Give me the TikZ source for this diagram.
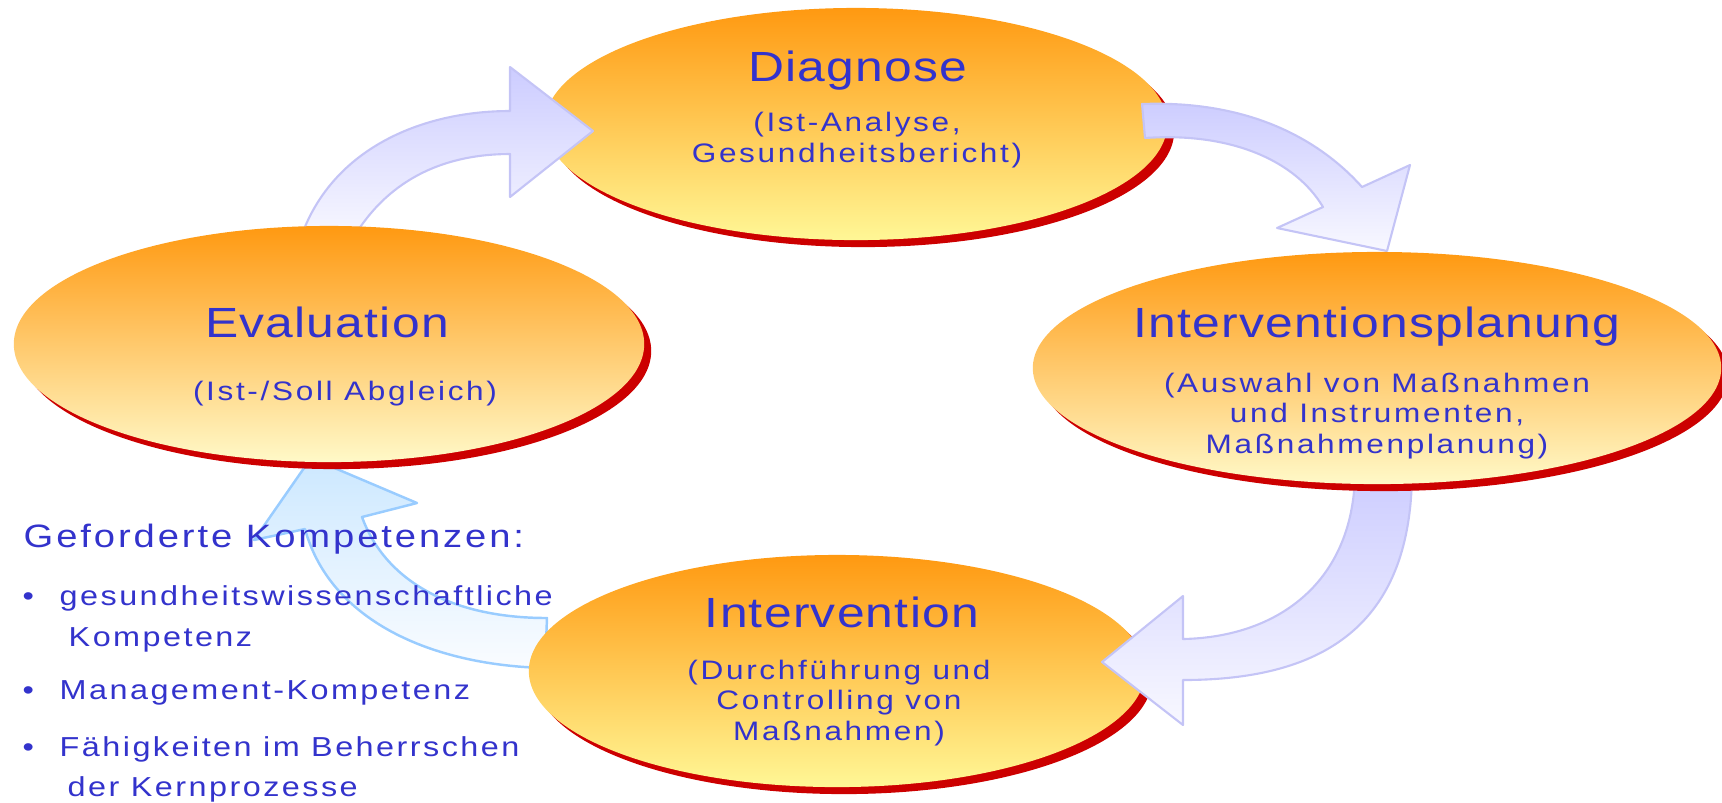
\documentclass[tikz,border=0pt]{standalone}
\usepackage{fontspec}
\setmainfont{Liberation Sans}
\newfontfamily\bigfont{Liberation Sans}[FakeStretch=1.18, LetterSpace=3]
\newfontfamily\smallfont{Liberation Sans}[FakeStretch=1.18, LetterSpace=10]
\newfontfamily\listfont{Liberation Sans}[FakeStretch=1.18, LetterSpace=9]
\usepackage{tikz}
\usetikzlibrary{shapes.geometric}
\usetikzlibrary{shadows}
\usetikzlibrary{positioning}

\definecolor{textblue}{RGB}{51,51,204}
\definecolor{ovaltop}{RGB}{255,153,17}
\definecolor{ovalbottom}{RGB}{255,247,150}
\definecolor{ovalpale}{RGB}{255,249,200}
\definecolor{ovalred}{RGB}{204,0,0}
\definecolor{lilac}{RGB}{204,204,255}
\definecolor{lilacline}{RGB}{196,196,246}
\definecolor{lilacpale}{RGB}{248,248,255}
\definecolor{skyfill}{RGB}{204,232,255}
\definecolor{skyline}{RGB}{153,204,255}
\definecolor{skypale}{RGB}{250,252,255}

\begin{document}
\begin{tikzpicture}
		[
		x=0.01cm, y=-0.01cm,
		text=textblue
		]
		
		% Styles: the phases and their texts
		\tikzstyle{phase}=[ellipse, inner sep=0, top color=ovaltop, bottom color=ovalbottom,
			drop shadow={shadow xshift=0.07cm, shadow yshift=-0.07cm, fill=ovalred, opacity=1}];
		\tikzstyle{phasetitle}=[font=\bigfont\fontsize{12}{14}\selectfont, anchor=base, inner sep=0];
		\tikzstyle{phasenote}=[font=\smallfont\fontsize{7.6}{8.6}\selectfont, align=center, anchor=base, inner sep=0];
		\tikzstyle{listhead}=[font=\listfont\fontsize{9.2}{10}\selectfont, anchor=base west, inner sep=0];
		\tikzstyle{listitem}=[font=\listfont\fontsize{7.8}{11.5}\selectfont, anchor=base west, inner sep=0];
		% Styles: the curved arrows
		\tikzstyle{lilacarrow}=[draw=lilacline, line width=0.6pt, line join=round, top color=lilac, bottom color=lilacpale];
		\tikzstyle{skyarrow}=[draw=skyline, line width=0.7pt, line join=round, top color=skyfill, bottom color=skypale];
		
		\useasboundingbox (0,0) rectangle (1722,802);
		
		% Arrow from Intervention back to Evaluation
		\path[skyarrow] (547,618) .. controls (450,618) and (385,580) .. (362,517) -- (417,503) -- (311,458)
			-- (254,540) -- (305,529) .. controls (330,620) and (430,665) .. (545,668) -- cycle;
		
		% Phases drawn below the arrows
		\node[phase, minimum width=6.22cm, minimum height=2.32cm] (diag) at (856,124) {};
		\node[phase, minimum width=6.16cm, minimum height=2.32cm] (interv) at (837,671) {};
		
		% Arrows between the phases
		\path[lilacarrow] (300,240) .. controls (330,150) and (420,111) .. (510,111) -- (510,67) -- (593,131)
			-- (510,197) -- (510,154) .. controls (450,154) and (390,175) .. (352,240) -- cycle;
		\path[lilacarrow] (1142,104) .. controls (1250,100) and (1320,140) .. (1362,187) -- (1410,165) -- (1387,251)
			-- (1277,228) -- (1323,207) .. controls (1295,160) and (1230,132) .. (1145,138) -- cycle;
		\path[lilacarrow] (1412,470) .. controls (1412,620) and (1330,680) .. (1183,680) -- (1183,725) -- (1102,662)
			-- (1183,596) -- (1183,639) .. controls (1280,637) and (1355,580) .. (1355,470) -- cycle;
		
		% Phases drawn above the arrows
		\node[phase, bottom color=ovalpale, minimum width=6.30cm, minimum height=2.36cm] (eval) at (329,344) {};
		\node[phase, bottom color=ovalpale, minimum width=6.88cm, minimum height=2.32cm] (plan) at (1377,368) {};
		
		% Texts of the phases (base = last line)
		\node[phasetitle] (diagT) at (858,81) {Diagnose};
		\node[phasenote] (diagS) at (857,162) {(Ist-Analyse,\\Gesundheitsbericht)};
		\node[phasetitle] (planT) at (1377,337) {Interventionsplanung};
		\node[phasenote] (planS) at (1377,453) {(Auswahl von Maßnahmen\\und Instrumenten,\\Maßnahmenplanung)};
		\node[phasetitle] (intervT) at (842,627) {Intervention};
		\node[phasenote] (intervS) at (839,740) {(Durchführung und\\Controlling von\\Maßnahmen)};
		\node[phasetitle] (evalT) at (327,337) {Evaluation};
		\node[phasenote] (evalS) at (345,400) {(Ist-/Soll Abgleich)};
		
		% Required competences
		\node[listhead] (komp) at (23,547) {Geforderte Kompetenzen:};
		\foreach \yy in {605,699,756} \node[listitem] (dot\yy) at (22,\yy) {•};
		\node[listitem] (item1) at (59,605) {gesundheitswissenschaftliche};
		\node[listitem] (item1b) at (68,646) {Kompetenz};
		\node[listitem] (item2) at (59,699) {Management-Kompetenz};
		\node[listitem] (item3) at (59,756) {Fähigkeiten im Beherrschen};
		\node[listitem] (item3b) at (67,796) {der Kernprozesse};
		
\end{tikzpicture}
\end{document}
